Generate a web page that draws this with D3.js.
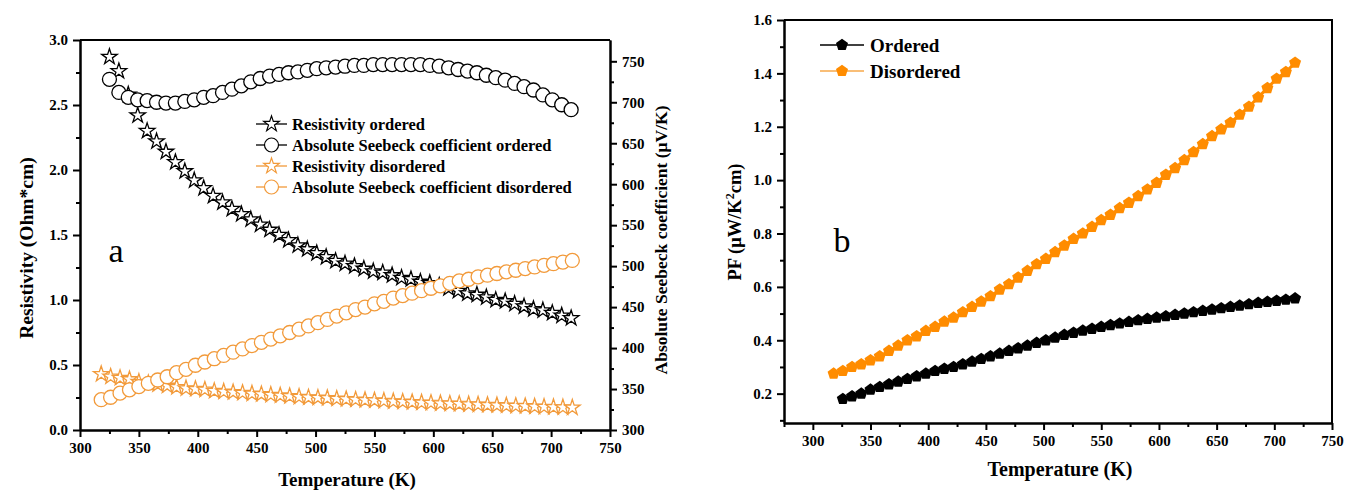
<!DOCTYPE html>
<html>
<head>
<meta charset="utf-8">
<script src="https://cdn.jsdelivr.net/npm/d3@7"></script>
<style>
  body { margin: 0; background: #fff; }
  svg { display: block; font-family: "Liberation Serif", "Times New Roman", serif; }
  .axis path, .axis line { stroke: #000; stroke-width: 2; }
  .axis text { font-size: 15px; font-weight: bold; fill: #000; font-family: "Liberation Serif", serif; }
  .title { font-weight: bold; fill: #000; }
</style>
</head>
<body>
<svg width="1346" height="493"></svg>
<script>
//data - panel a
const tempOrd = [325,333,341,349,357,365,373,381,389,397,405,413,421,429,437,445,453,461,469,477,485,493,501,509,517,525,533,541,549,557,565,573,581,589,597,605,613,621,629,637,645,653,661,669,677,685,693,701,709,717];
const rhoOrd = [2.87,2.76,2.58,2.42,2.30,2.22,2.14,2.06,1.99,1.92,1.86,1.80,1.75,1.70,1.66,1.62,1.58,1.54,1.50,1.46,1.42,1.39,1.36,1.33,1.30,1.28,1.26,1.24,1.22,1.21,1.19,1.17,1.16,1.14,1.13,1.11,1.09,1.07,1.05,1.04,1.02,1.00,0.99,0.97,0.95,0.93,0.92,0.90,0.88,0.86];
const seebeckOrd = [728,712,706,703,702,700,699,699,701,703,706,708,712,716,720,725,729,732,734,736,737,739,741,742,743,744,745,745,746,746,746,746,746,746,745,744,742,740,738,736,733,730,727,723,719,715,709,703,697,691];

const tempDis = [318,326,334,342,350,358,366,374,382,390,398,406,414,422,430,438,446,454,462,470,478,486,494,502,510,518,526,534,542,550,558,566,574,582,590,598,606,614,622,630,638,646,654,662,670,678,686,694,702,710,718];
const rhoDis = [0.43,0.41,0.40,0.39,0.37,0.36,0.35,0.34,0.33,0.32,0.315,0.31,0.30,0.295,0.29,0.285,0.28,0.275,0.27,0.265,0.26,0.255,0.25,0.248,0.245,0.24,0.237,0.233,0.23,0.227,0.224,0.22,0.217,0.214,0.211,0.208,0.205,0.202,0.2,0.197,0.195,0.192,0.19,0.188,0.185,0.183,0.18,0.178,0.176,0.174,0.172];
const seebeckDis = [337,340,345,349,353,357,361,365,370,374,379,383,387,391,395,399,403,407,411,415,419,423,427,431,435,439,443,447,450,454,457,461,464,467,470,473,476,479,482,484,487,489,491,493,495,497,499,501,503,505,507];

//data - panel b
const tempPFOrd = [326,334,342,350,358,366,374,382,390,398,406,414,422,430,438,446,454,462,470,478,486,494,502,510,518,526,534,542,550,558,566,574,582,590,598,606,614,622,630,638,646,654,662,670,678,686,694,702,710,718];
const pfOrd = [0.18,0.19,0.20,0.215,0.225,0.235,0.245,0.255,0.265,0.275,0.285,0.293,0.30,0.31,0.32,0.33,0.34,0.35,0.36,0.37,0.38,0.39,0.40,0.41,0.42,0.428,0.436,0.443,0.45,0.457,0.463,0.469,0.475,0.48,0.485,0.49,0.495,0.50,0.505,0.51,0.515,0.52,0.525,0.53,0.535,0.54,0.544,0.548,0.552,0.557];
const tempPFDis = [318,326,334,342,350,358,366,374,382,390,398,406,414,422,430,438,446,454,462,470,478,486,494,502,510,518,526,534,542,550,558,566,574,582,590,598,606,614,622,630,638,646,654,662,670,678,686,694,702,710,718];
const pfDis = [0.275,0.285,0.30,0.31,0.325,0.34,0.36,0.38,0.40,0.415,0.435,0.45,0.47,0.485,0.505,0.525,0.545,0.565,0.59,0.61,0.635,0.66,0.685,0.705,0.73,0.755,0.78,0.80,0.825,0.85,0.87,0.895,0.915,0.94,0.965,0.99,1.02,1.045,1.075,1.105,1.135,1.165,1.19,1.215,1.245,1.275,1.31,1.345,1.38,1.405,1.44];

//ticks
const tempTicksA = [300,350,400,450,500,550,600,650,700,750];
const tempMinorA = [325,375,425,475,525,575,625,675,725];
const rhoTicks = [0,0.5,1.0,1.5,2.0,2.5,3.0];
const rhoMinor = [0.25,0.75,1.25,1.75,2.25,2.75];
const sTicks = [300,350,400,450,500,550,600,650,700,750];
const sMinor = [325,375,425,475,525,575,625,675,725];
const tempTicksB = [300,350,400,450,500,550,600,650,700,750];
const tempMinorB = [275,325,375,425,475,525,575,625,675,725];
const pfTicks = [0.2,0.4,0.6,0.8,1.0,1.2,1.4,1.6];
const pfMinor = [0.1,0.3,0.5,0.7,0.9,1.1,1.3,1.5];

//legends
const legendA = ["Resistivity ordered", "Absolute Seebeck coefficient ordered", "Resistivity disordered", "Absolute Seebeck coefficient disordered"];
const legendB = ["Ordered", "Disordered"];

const black = "#000";
const orangeA = "#F29A3A";
const orangeB = "#FF8C00";

const svg = d3.select("svg");

// pentagon symbol
const symbolPentagon = {
  draw(ctx, size) {
    const r = Math.sqrt(size / (2.5 * Math.sin(2 * Math.PI / 5)));
    for (let i = 0; i < 5; i++) {
      const a = -Math.PI / 2 + i * 2 * Math.PI / 5;
      const x = r * Math.cos(a), y = r * Math.sin(a);
      if (i === 0) ctx.moveTo(x, y); else ctx.lineTo(x, y);
    }
    ctx.closePath();
  }
};

function addAxis(g, axisFn, scale, major, minor, fmt, transform) {
  g.append("g").attr("class", "axis").attr("transform", transform)
    .call(axisFn(scale).tickValues(minor).tickSize(4).tickSizeOuter(0).tickFormat(""));
  return g.append("g").attr("class", "axis").attr("transform", transform)
    .call(axisFn(scale).tickValues(major).tickSize(7).tickSizeOuter(0).tickFormat(fmt).tickPadding(5));
}

//===== panel a =====
const xA = d3.scaleLinear().domain([300, 750]).range([80, 610]);
const yA = d3.scaleLinear().domain([0, 3]).range([430, 40]);
const yS = d3.scaleLinear().domain([300, 776]).range([430, 40]);

const gA = svg.append("g");

gA.append("line").attr("x1", 80).attr("x2", 610).attr("y1", 40).attr("y2", 40)
  .attr("stroke", "#000").attr("stroke-width", 2);

addAxis(gA, d3.axisBottom, xA, tempTicksA, tempMinorA, d3.format("d"), "translate(0,430)");
addAxis(gA, d3.axisLeft, yA, rhoTicks, rhoMinor, d3.format(".1f"), "translate(80,0)");
addAxis(gA, d3.axisRight, yS, sTicks, sMinor, d3.format("d"), "translate(610,0)");

const starPath = d3.symbol().type(d3.symbolStar).size(75)();

function drawStars(g, temps, vals, y, color) {
  g.append("g").selectAll("path")
    .data(temps.map((t, i) => ({t: t, v: vals[i]})))
    .enter().append("path")
    .attr("d", starPath)
    .attr("transform", d => "translate(" + xA(d.t) + "," + y(d.v) + ")")
    .attr("fill", "#fff").attr("stroke", color).attr("stroke-width", 1.3);
}
function drawCircles(g, temps, vals, y, color) {
  g.append("g").selectAll("circle")
    .data(temps.map((t, i) => ({t: t, v: vals[i]})))
    .enter().append("circle")
    .attr("cx", d => xA(d.t)).attr("cy", d => y(d.v)).attr("r", 7)
    .attr("fill", "#fff").attr("stroke", color).attr("stroke-width", 1.3);
}

drawStars(gA, tempOrd, rhoOrd, yA, black);
drawCircles(gA, tempOrd, seebeckOrd, yS, black);
drawStars(gA, tempDis, rhoDis, yA, orangeA);
drawCircles(gA, tempDis, seebeckDis, yS, orangeA);

// legend a
const legA = gA.append("g").attr("transform", "translate(256,124)");
legendA.forEach((name, i) => {
  const color = i < 2 ? black : orangeA;
  const row = legA.append("g").attr("transform", "translate(0," + (i * 21) + ")");
  row.append("line").attr("x1", 0).attr("x2", 31).attr("stroke", color).attr("stroke-width", 1.3);
  if (i % 2 === 0) {
    row.append("path").attr("d", starPath).attr("transform", "translate(15.5,0)")
      .attr("fill", "#fff").attr("stroke", color).attr("stroke-width", 1.2);
  } else {
    row.append("circle").attr("cx", 15.5).attr("r", 7)
      .attr("fill", "#fff").attr("stroke", color).attr("stroke-width", 1.2);
  }
  row.append("text").attr("class", "title").attr("x", 36).attr("dy", "0.35em")
    .style("font-size", "16.5px").text(name);
});

gA.append("text").attr("x", 116).attr("y", 262).attr("text-anchor", "middle")
  .style("font-size", "34px").text("a");

// axis titles a
gA.append("text").attr("class", "title").attr("x", 347).attr("y", 486)
  .attr("text-anchor", "middle").style("font-size", "19px").text("Temperature (K)");
gA.append("text").attr("class", "title")
  .attr("transform", "translate(33,248) rotate(-90)")
  .attr("text-anchor", "middle").style("font-size", "19.5px").text("Resistivity (Ohm*cm)");
gA.append("text").attr("class", "title")
  .attr("transform", "translate(667,240) rotate(-90)")
  .attr("text-anchor", "middle").style("font-size", "17.5px").text("Absolute Seebeck coefficient (\u03bcV/K)");

//===== panel b =====
const xB = d3.scaleLinear().domain([275, 750]).range([784, 1332]);
const yB = d3.scaleLinear().domain([0.09, 1.6]).range([423, 20]);

const gB = svg.append("g");

gB.append("path").attr("d", "M784,20H1332V423")
  .attr("fill", "none").attr("stroke", "#000").attr("stroke-width", 2);

addAxis(gB, d3.axisBottom, xB, tempTicksB, tempMinorB, d3.format("d"), "translate(0,423)");
addAxis(gB, d3.axisLeft, yB, pfTicks, pfMinor, d3.format(".1f"), "translate(784,0)");

const pentPath = d3.symbol().type(symbolPentagon).size(95)();
const lineB = d3.line().x(d => xB(d.t)).y(d => yB(d.v));

function drawPF(temps, vals, color) {
  const pts = temps.map((t, i) => ({t: t, v: vals[i]}));
  gB.append("path").datum(pts).attr("d", lineB)
    .attr("fill", "none").attr("stroke", color).attr("stroke-width", 3);
  gB.append("g").selectAll("path").data(pts).enter().append("path")
    .attr("d", pentPath)
    .attr("transform", d => "translate(" + xB(d.t) + "," + yB(d.v) + ")")
    .attr("fill", color);
}
drawPF(tempPFOrd, pfOrd, black);
drawPF(tempPFDis, pfDis, orangeB);

// legend b
const legB = gB.append("g").attr("transform", "translate(820,45)");
legendB.forEach((name, i) => {
  const color = i === 0 ? black : "#F7A84A";
  const fill = i === 0 ? black : orangeB;
  const row = legB.append("g").attr("transform", "translate(0," + (i * 26) + ")");
  row.append("line").attr("x1", 0).attr("x2", 44).attr("stroke", color).attr("stroke-width", 1.5);
  row.append("path").attr("d", pentPath).attr("transform", "translate(22,0)").attr("fill", fill);
  row.append("text").attr("class", "title").attr("x", 50).attr("dy", "0.35em")
    .style("font-size", "19px").text(name);
});

gB.append("text").attr("x", 842).attr("y", 252).attr("text-anchor", "middle")
  .style("font-size", "34px").text("b");

gB.append("text").attr("class", "title").attr("x", 1060).attr("y", 476)
  .attr("text-anchor", "middle").style("font-size", "20px").text("Temperature (K)");
const pfTitle = gB.append("text").attr("class", "title")
  .attr("transform", "translate(741,222) rotate(-90)")
  .attr("text-anchor", "middle").style("font-size", "18.5px");
pfTitle.append("tspan").text("PF (\u03bcW/K");
pfTitle.append("tspan").attr("dy", -7).style("font-size", "12px").text("2");
pfTitle.append("tspan").attr("dy", 7).text("cm)");
</script>
</body>
</html>
